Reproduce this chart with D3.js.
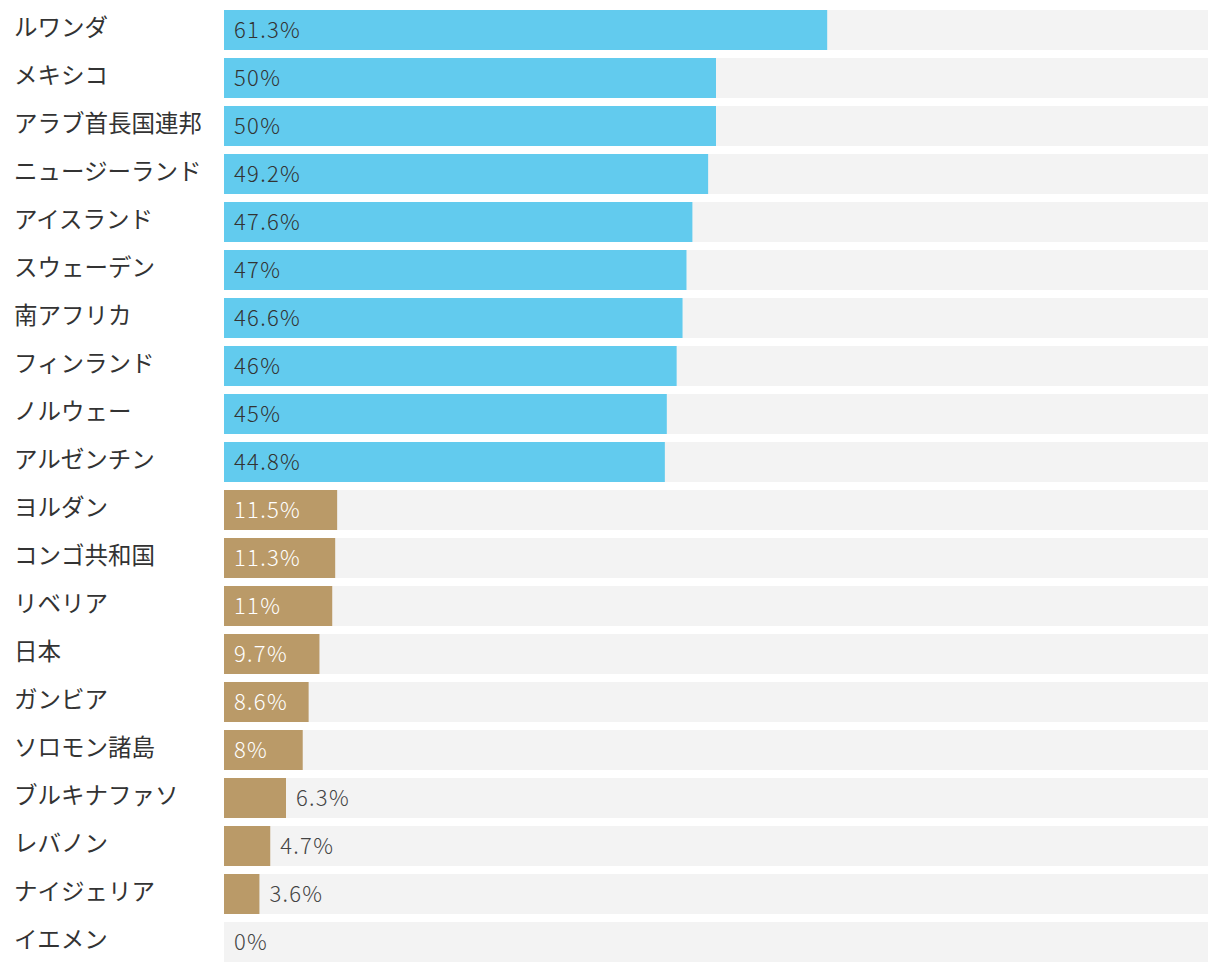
<!DOCTYPE html>
<html><head><meta charset="utf-8">
<script src="https://cdn.jsdelivr.net/npm/d3@7"></script>
<style>
html,body{margin:0;padding:0;background:#fff;}
svg text{font-family:"Noto Sans CJK JP","Noto Sans",sans-serif;}
</style></head>
<body><svg id="chart" width="1220" height="972"></svg>
<script>
const countries = ["ルワンダ","メキシコ","アラブ首長国連邦","ニュージーランド","アイスランド","スウェーデン","南アフリカ","フィンランド","ノルウェー","アルゼンチン","ヨルダン","コンゴ共和国","リベリア","日本","ガンビア","ソロモン諸島","ブルキナファソ","レバノン","ナイジェリア","イエメン"];
const values = [61.3,50,50,49.2,47.6,47,46.6,46,45,44.8,11.5,11.3,11,9.7,8.6,8,6.3,4.7,3.6,0];
const groups = ["top","top","top","top","top","top","top","top","top","top","bottom","bottom","bottom","bottom","bottom","bottom","bottom","bottom","bottom","bottom"];
const colors = {top:"#62cbee", bottom:"#ba9a68"};
const textColors = {top:"#333333", bottom:"#ffffff"};

const data = countries.map((c,i)=>({c, v:values[i], g:groups[i]}));
const svg = d3.select("#chart");
const x = d3.scaleLinear().domain([0,100]).range([224,1208]);
const yb = d3.scaleBand().domain(countries).range([10,962]).paddingInner(1/6).paddingOuter(0);

const row = svg.selectAll("g.row").data(data).join("g").attr("class","row");
row.append("rect").attr("x",x(0)).attr("y",d=>yb(d.c)).attr("width",x(100)-x(0)).attr("height",yb.bandwidth()).attr("fill","#f3f3f3");
row.append("rect").attr("x",x(0)).attr("y",d=>yb(d.c)).attr("width",d=>x(d.v)-x(0)).attr("height",yb.bandwidth()).attr("fill",d=>colors[d.g]);
row.append("text").attr("x",14).attr("y",d=>yb(d.c)+yb.bandwidth()/2-2).attr("dy","0.35em")
  .attr("font-size",23.5).attr("fill","#333").text(d=>d.c);
row.append("text").attr("class","val").attr("y",d=>yb(d.c)+yb.bandwidth()/2).attr("dy","0.35em")
  .attr("font-size",22).attr("font-weight",300).attr("letter-spacing","1.3px").text(d=>d.v+"%")
  .each(function(d){
    const t=d3.select(this);
    const w=this.getComputedTextLength();
    const bw=x(d.v)-x(0);
    if(w+20<bw){ t.attr("x",x(0)+10).attr("fill",textColors[d.g]); }
    else { t.attr("x",x(d.v)+10).attr("fill","#444"); }
  });
</script></body></html>
